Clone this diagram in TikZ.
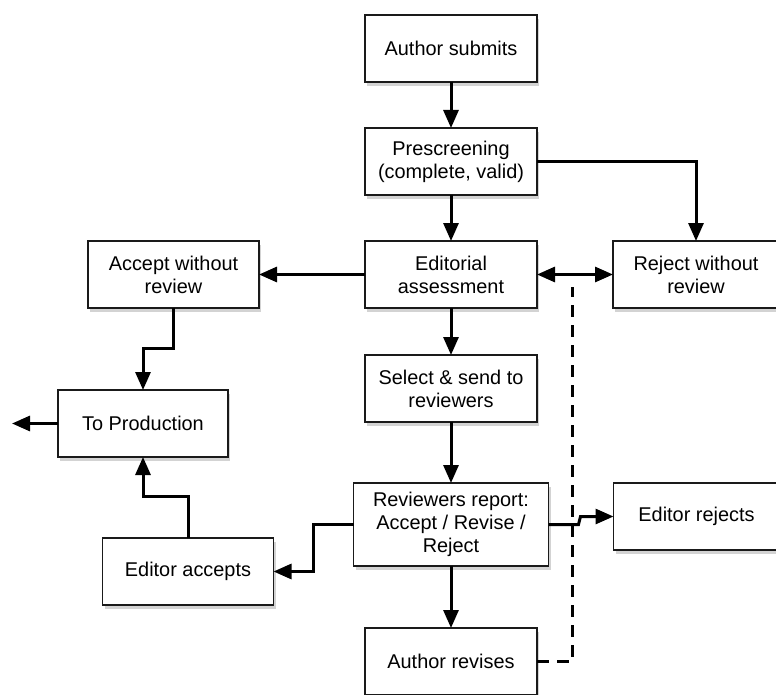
\documentclass[tikz,border=0pt]{standalone}
\usepackage{fontspec}
\setmainfont{Liberation Sans}
\usepackage{tikz}
\usetikzlibrary{arrows.meta,positioning,shadows}
\definecolor{BoxLine}{HTML}{1A1A1A}

\begin{document}
\begin{tikzpicture}[x=1pt, y=-1pt,
    stage/.style={draw=BoxLine, line width=1.5pt, fill=white, minimum width=172pt,
      minimum height=67pt, align=center, outer sep=0pt, inner sep=2pt,
      font=\fontsize{19.9}{23}\selectfont,
      drop shadow={shadow xshift=2pt, shadow yshift=-4pt, opacity=0.35}},
    arrow/.style={-{Triangle[length=18pt,width=15pt]}, line width=3pt, color=black},
    twoway/.style={{Triangle[length=18pt,width=15pt]}-{Triangle[length=18pt,width=15pt]},
      line width=3pt, color=black},
    loopback/.style={line width=3pt, dash pattern=on 12pt off 8pt, color=black},
    node distance=46pt and 76pt
  ]
    \path[use as bounding box, clip] (0,0) rectangle (776,695);
    \node[stage] (submit) at (451,48.5) {Author submits};
    \node[stage, below=of submit] (prescreen) {Prescreening\\(complete, valid)};
    \node[stage, below=of prescreen] (editorial) {Editorial\\assessment};
    \node[stage, right=of editorial, minimum width=166pt] (rejectnr) {Reject without\\review};
    \node[stage, left=106pt of editorial, minimum width=171pt] (acceptnr) {Accept without\\review};
    \node[stage, below=82pt of acceptnr, xshift=-30.5pt, minimum width=170pt] (toprod) {To Production};
    \node[stage, below=47pt of editorial] (select) {Select \& send to\\reviewers};
    \node[stage, below=61pt of select, minimum width=195pt, minimum height=83pt] (report) {Reviewers report:\\Accept / Revise /\\Reject};
    \node[stage, right=65pt of report, yshift=8pt, minimum width=166pt] (edrej) {Editor rejects};
    \node[stage, left=80pt of report, yshift=-47pt, minimum width=171pt] (edacc) {Editor accepts};
    \node[stage, below=62pt of report] (revises) {Author revises};
    \coordinate[left=46pt of toprod] (exitpt);
    \coordinate (dashtop) at (572,287);
    \draw[arrow] (submit) -- (prescreen);
    \draw[arrow] (prescreen) -- (editorial);
    \draw[arrow] (prescreen.east) -| (rejectnr.north);
    \draw[arrow] (editorial) -- (acceptnr);
    \draw[twoway] (editorial) -- (rejectnr);
    \draw[arrow] (acceptnr.south) -- ++(0,40) -| (toprod.north);
    \draw[arrow] (toprod) -- (exitpt);
    \draw[arrow] (editorial) -- (select);
    \draw[arrow] (select) -- (report);
    \draw[arrow] (report) -- (revises);
    \draw[arrow] (report.west) -- ++(-40,0) |- (edacc.east);
    \draw[arrow] (edacc.north) -- ++(0,-42) -| (toprod.south);
    \draw[arrow] (report.east) -- ++(30,0) -- ++(2,-8) -- (edrej.west);
    \draw[loopback] (revises.east) -| (dashtop);
  \end{tikzpicture}
\end{document}
